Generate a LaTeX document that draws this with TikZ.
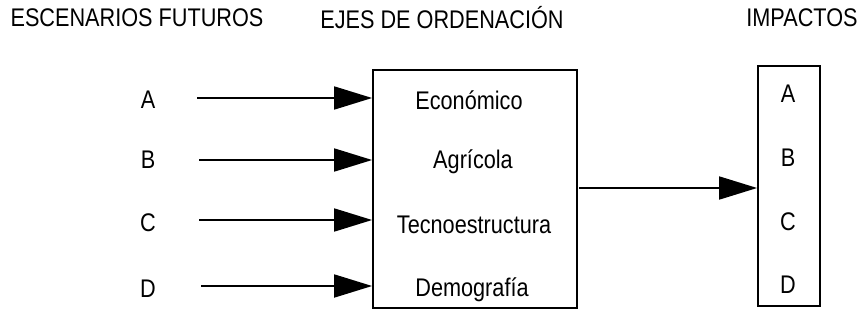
\documentclass[tikz,border=0pt]{standalone}
\usepackage{fontspec}
\setmainfont{Liberation Sans}[FakeStretch=0.85]
\usetikzlibrary{arrows.meta}
\begin{document}
\begin{tikzpicture}[x=1pt,y=-1pt,
  lbl/.style={inner sep=0pt,font=\fontsize{25.5}{27}\selectfont},
  boxframe/.style={draw,line width=1.8pt,inner sep=0pt},
  conn/.style={line width=1.8pt,-{Triangle[length=38pt,width=23pt]}}]
\useasboundingbox (0,0) rectangle (859,321);
% titles
\node[lbl] (t1) at (137,18) {ESCENARIOS FUTUROS};
\node[lbl] (t2) at (442,18) {EJES DE ORDENACIÓN};
\node[lbl] (t3) at (802,18) {IMPACTOS};
% middle box
\node[boxframe,minimum width=204pt,minimum height=238pt] (mid) at (475,189) {};
\node[lbl] (e1) at (469,100) {Económico};
\node[lbl] (e2) at (473,162) {Agrícola};
\node[lbl] (e3) at (474,225) {Tecnoestructura};
\node[lbl] (e4) at (472,290) {Demografía};
% right box
\node[boxframe,minimum width=62pt,minimum height=240pt] (imp) at (789,186) {};
\node[lbl] (i1) at (788,94) {A};
\node[lbl] (i2) at (788,158) {B};
\node[lbl] (i3) at (788,222) {C};
\node[lbl] (i4) at (788,285) {D};
% left letters
\node[lbl] (a) at (148,100) {A};
\node[lbl] (b) at (148,160) {B};
\node[lbl] (c) at (148,223) {C};
\node[lbl] (d) at (148,289) {D};
\coordinate (sa) at (197,98);
\coordinate (sb) at (199,160);
\coordinate (sc) at (199,220);
\coordinate (sd) at (201,286);
\draw[conn] (sa) -- (sa -| mid.west);
\draw[conn] (sb) -- (sb -| mid.west);
\draw[conn] (sc) -- (sc -| mid.west);
\draw[conn] (sd) -- (sd -| mid.west);
\coordinate (so) at (579,188);
\draw[conn] (so) -- (so -| imp.west);
\end{tikzpicture}
\end{document}
